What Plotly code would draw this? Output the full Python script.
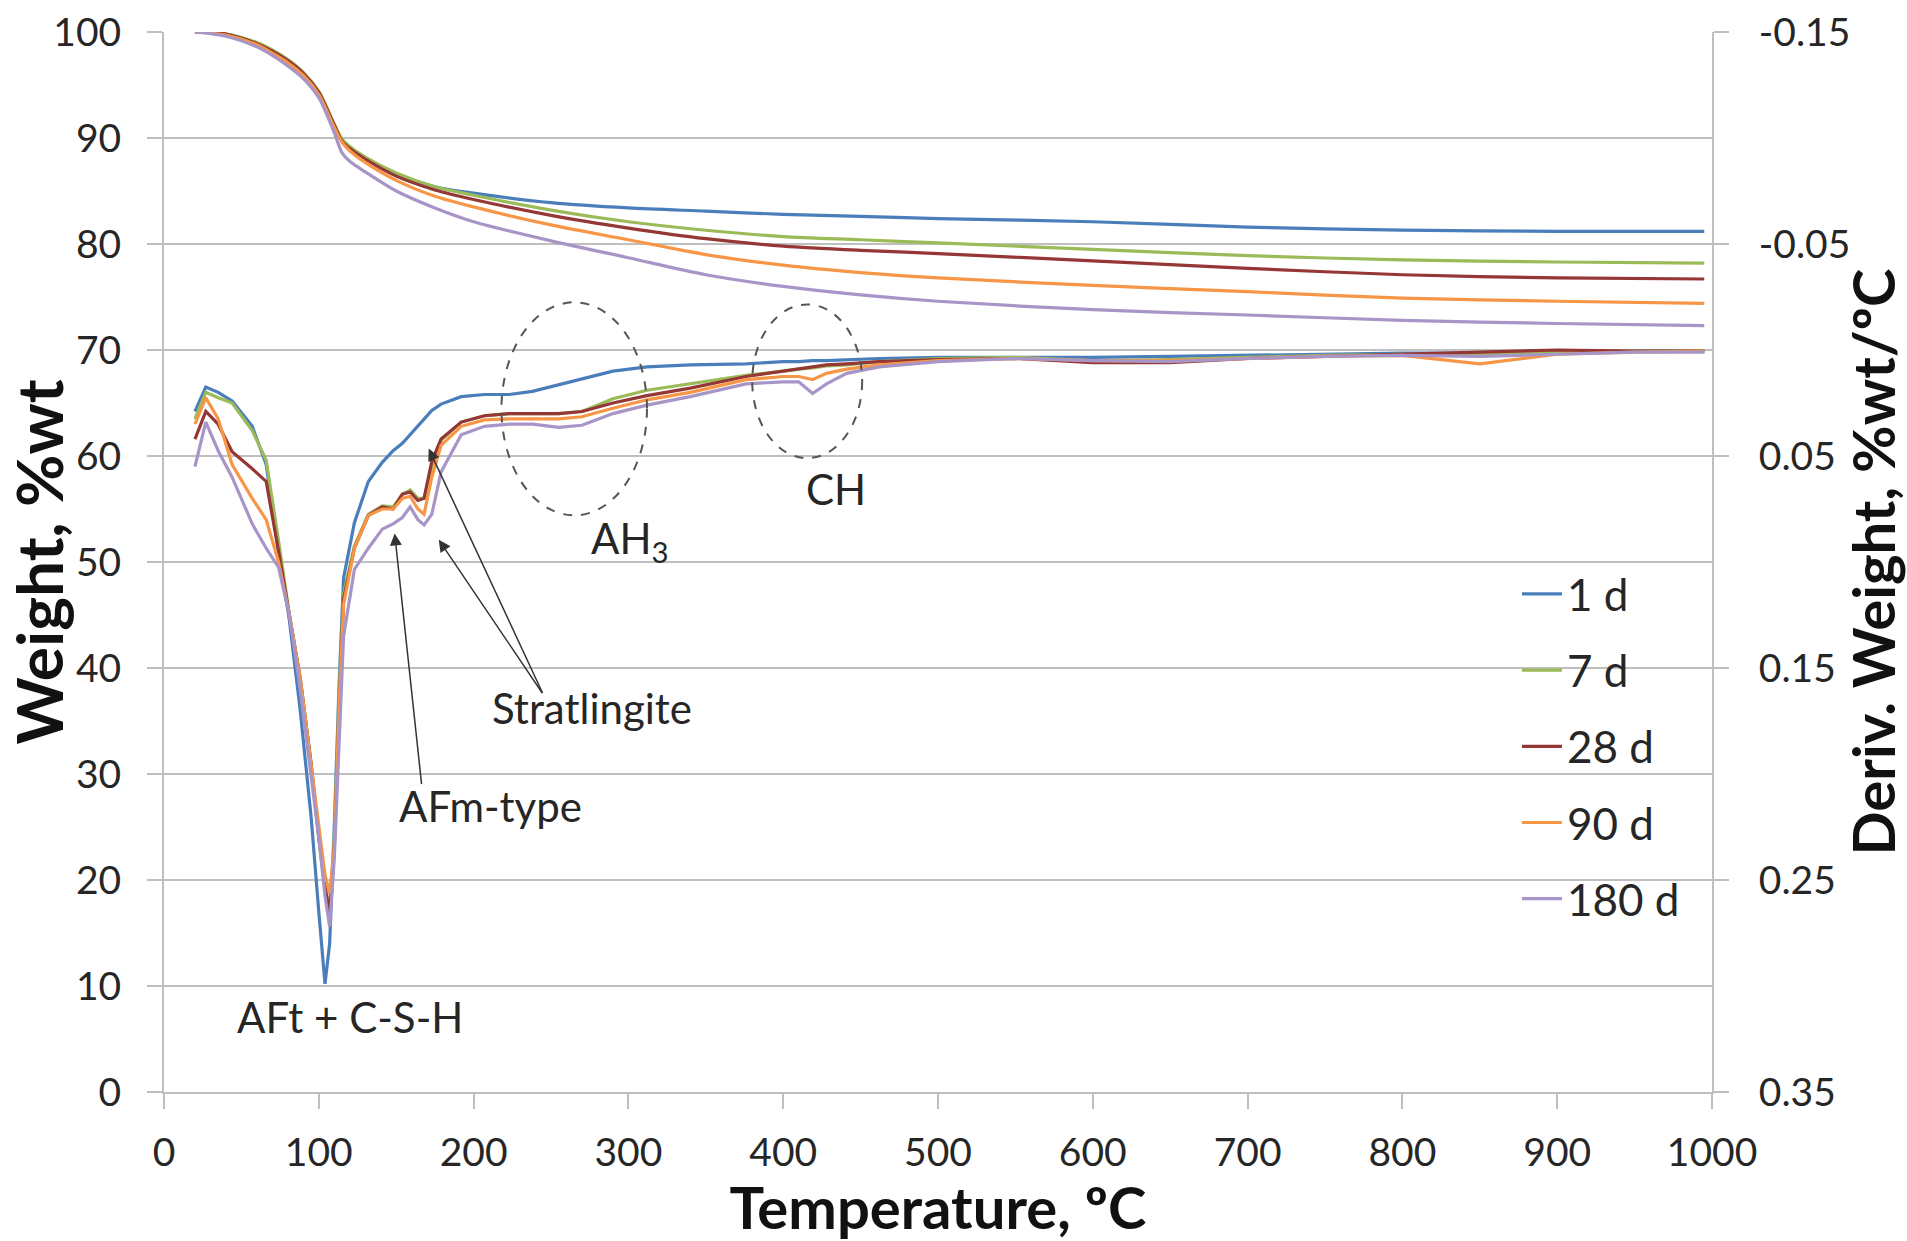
import plotly.graph_objects as go

# ---------------- data ----------------
series_names = ["1 d", "7 d", "28 d", "90 d", "180 d"]
series_colors = ["#4A7EBB", "#9BBB59", "#953735", "#F79646", "#A895C8"]

# TG curves (weight, %wt) – left axis
tg_temperature = [20, 40, 60, 70, 80, 90, 100, 110, 115, 120, 130, 150, 175, 200,
                  250, 300, 350, 400, 450, 500, 600, 700, 800, 900, 995]
tg_1d = [100, 99.8, 98.9, 98.1, 97.2, 96.0, 94.3, 91.2, 89.8, 89.1, 88.1, 86.6, 85.4, 84.8,
         83.9, 83.4, 83.1, 82.8, 82.6, 82.4, 82.1, 81.6, 81.3, 81.2, 81.2]
tg_7d = [100, 99.8, 99.0, 98.3, 97.4, 96.2, 94.4, 91.3, 89.9, 89.2, 88.2, 86.7, 85.4, 84.6,
         83.2, 82.1, 81.3, 80.7, 80.4, 80.1, 79.5, 78.9, 78.5, 78.3, 78.2]
tg_28d = [100, 99.8, 98.9, 98.2, 97.3, 96.1, 94.3, 91.2, 89.7, 89.0, 88.0, 86.4, 85.1, 84.2,
          82.7, 81.5, 80.5, 79.8, 79.4, 79.1, 78.4, 77.7, 77.1, 76.8, 76.7]
tg_90d = [100, 99.7, 98.8, 98.0, 97.1, 95.9, 94.1, 91.0, 89.6, 88.8, 87.7, 86.0, 84.5, 83.5,
          81.8, 80.4, 79.0, 78.0, 77.3, 76.8, 76.1, 75.5, 74.9, 74.6, 74.4]
tg_180d = [100, 99.6, 98.6, 97.8, 96.8, 95.6, 93.8, 90.5, 88.6, 87.8, 86.8, 85.0, 83.4, 82.1,
           80.3, 78.7, 77.1, 76.0, 75.2, 74.6, 73.8, 73.3, 72.8, 72.5, 72.3]

# DTG curves (deriv. weight, %wt/oC) – right (reversed) axis
dtg_temperature = [20, 27, 35, 44, 57, 66, 74, 81, 88, 95, 100, 104, 107, 110, 113,
                   116, 123, 132, 141, 148, 154, 159, 164, 168, 173, 179, 192, 207, 223, 238,
                   255, 270, 290, 312, 340, 376, 400, 410, 419, 428, 441, 462, 500, 550, 600,
                   650, 700, 750, 800, 850, 900, 950, 995]
dtg_1d = [0.029, 0.0175, 0.020, 0.024, 0.036, 0.054, 0.095, 0.1275, 0.170, 0.220,
          0.265, 0.299, 0.280, 0.225, 0.160, 0.1075, 0.0815, 0.062, 0.053, 0.0475,
          0.044, 0.040, 0.0355, 0.0325, 0.0285, 0.0255, 0.022, 0.021, 0.021, 0.0195,
          0.0165, 0.0135, 0.010, 0.008, 0.007, 0.0065, 0.0055, 0.0055, 0.005, 0.005,
          0.0045, 0.004, 0.0035, 0.0035, 0.0035, 0.003, 0.0025, 0.002, 0.0015, 0.0015,
          0.001, 0.0005, 0.0005]
dtg_7d = [0.0325, 0.020, 0.0225, 0.025, 0.038, 0.052, 0.090, 0.125, 0.155, 0.195,
          0.230, 0.255, 0.2625, 0.230, 0.165, 0.115, 0.0925, 0.0775, 0.0735, 0.074,
          0.068, 0.066, 0.070, 0.070, 0.055, 0.0425, 0.034, 0.031, 0.030, 0.030,
          0.030, 0.029, 0.023, 0.019, 0.016, 0.012, 0.010, 0.009, 0.0085, 0.0075,
          0.007, 0.0055, 0.004, 0.0035, 0.005, 0.0045, 0.0035, 0.0025, 0.002, 0.002,
          0.001, 0.0005, 0.0005]
dtg_28d = [0.042, 0.029, 0.035, 0.048, 0.056, 0.062, 0.095, 0.125, 0.155, 0.195,
           0.230, 0.2525, 0.2665, 0.235, 0.170, 0.1175, 0.0935, 0.078, 0.074, 0.075,
           0.068, 0.067, 0.071, 0.070, 0.0525, 0.042, 0.034, 0.031, 0.030, 0.030,
           0.030, 0.029, 0.025, 0.0215, 0.018, 0.0125, 0.010, 0.009, 0.008, 0.007,
           0.0065, 0.0055, 0.0045, 0.004, 0.006, 0.006, 0.004, 0.003, 0.002, 0.001,
           0.000, 0.0005, 0.0005]
dtg_90d = [0.035, 0.0225, 0.0325, 0.054, 0.070, 0.080, 0.100, 0.125, 0.155, 0.195,
           0.225, 0.2475, 0.2565, 0.235, 0.170, 0.120, 0.0935, 0.078, 0.075, 0.075,
           0.070, 0.069, 0.075, 0.0775, 0.060, 0.045, 0.036, 0.033, 0.0325, 0.0325,
           0.0325, 0.0315, 0.0275, 0.0235, 0.020, 0.014, 0.0125, 0.0125, 0.014, 0.011,
           0.009, 0.007, 0.005, 0.004, 0.005, 0.005, 0.004, 0.003, 0.0025, 0.0065,
           0.002, 0.001, 0.0005]
dtg_180d = [0.055, 0.034, 0.0475, 0.060, 0.082, 0.0935, 0.1025, 0.125, 0.160, 0.200,
            0.230, 0.2575, 0.272, 0.240, 0.185, 0.135, 0.1035, 0.0935, 0.0845, 0.082,
            0.079, 0.074, 0.080, 0.0825, 0.0775, 0.0575, 0.040, 0.036, 0.035, 0.035,
            0.0365, 0.0355, 0.030, 0.026, 0.022, 0.016, 0.015, 0.015, 0.0205, 0.016,
            0.011, 0.008, 0.0055, 0.004, 0.005, 0.0055, 0.004, 0.003, 0.0025, 0.003,
            0.002, 0.001, 0.001]

x_ticks = [0, 100, 200, 300, 400, 500, 600, 700, 800, 900, 1000]
y_ticks = [0, 10, 20, 30, 40, 50, 60, 70, 80, 90, 100]
y2_ticks = [-0.15, -0.05, 0.05, 0.15, 0.25, 0.35]
y2_tick_labels = ["-0.15", "-0.05", "0.05", "0.15", "0.25", "0.35"]

tg_series = [tg_1d, tg_7d, tg_28d, tg_90d, tg_180d]
dtg_series = [dtg_1d, dtg_7d, dtg_28d, dtg_90d, dtg_180d]

# ---------------- figure ----------------
FONT = "Lato, 'Open Sans', sans-serif"
TXT = "#262626"
GRID = "#BFBFBF"

fig = go.Figure()
for name, color, tg, dtg in zip(series_names, series_colors, tg_series, dtg_series):
    fig.add_trace(go.Scatter(x=tg_temperature, y=tg, mode="lines", name=name,
                             legendgroup=name,
                             line=dict(color=color, width=3.2, shape="spline", smoothing=0.8),
                             yaxis="y"))
    fig.add_trace(go.Scatter(x=dtg_temperature, y=dtg, mode="lines", name=name,
                             legendgroup=name, showlegend=False,
                             line=dict(color=color, width=3.2), yaxis="y2"))

# dashed ellipses
fig.add_shape(type="circle", xref="x", yref="y", x0=218, x1=312, y0=54.4, y1=74.5,
              line=dict(color="#555555", width=2, dash="dash"))
fig.add_shape(type="circle", xref="x", yref="y", x0=380, x1=451, y0=59.8, y1=74.3,
              line=dict(color="#555555", width=2, dash="dash"))

# labels
labels = [
    (120, 7.1, "AFt + C-S-H"),
    (211, 27.0, "AFm-type"),
    (276.5, 36.2, "Stratlingite"),
    (301, 52.0, "AH<sub>3</sub>"),
    (434, 56.9, "CH"),
]
for lx, ly, lt in labels:
    fig.add_annotation(x=lx, y=ly, xref="x", yref="y", text=lt, showarrow=False,
                       font=dict(family=FONT, size=42, color=TXT))

# arrows (head at x,y ; tail at ax,ay)
arrows = [
    (149, 52.7, 166.5, 28.9),
    (171, 60.7, 245, 37.5),
    (177.5, 52.1, 245, 37.5),
]
for hx, hy, tx, ty in arrows:
    fig.add_annotation(x=hx, y=hy, ax=tx, ay=ty, xref="x", yref="y", axref="x", ayref="y",
                       text="", showarrow=True, arrowhead=2, arrowsize=1.6,
                       arrowwidth=1.5, arrowcolor="#333333")

fig.update_layout(
    width=1907, height=1241,
    margin=dict(l=164, r=195, t=32, b=149, autoexpand=False),
    paper_bgcolor="white", plot_bgcolor="white",
    font=dict(family=FONT, size=39, color=TXT),
    xaxis=dict(range=[0, 1000], tickvals=x_ticks, showgrid=False, automargin=False,
               showline=True, linecolor=GRID, linewidth=2,
               ticks="outside", ticklen=15, tickwidth=2, tickcolor=GRID,
               ticklabelstandoff=10, zeroline=False,
               title=dict(text="<b>Temperature, ºC</b>", font=dict(size=58, color="#111111"),
                          standoff=14)),
    yaxis=dict(range=[0, 100], tickvals=y_ticks, showgrid=True, gridcolor=GRID, gridwidth=2,
               showline=True, linecolor=GRID, linewidth=2, zeroline=False, automargin=False,
               ticks="outside", ticklen=15, tickwidth=2, tickcolor=GRID,
               ticklabelstandoff=18,
               title=dict(text="<b>Weight, %wt</b>", font=dict(size=64, color="#111111"),
                          standoff=6)),
    yaxis2=dict(range=[0.35, -0.15], tickvals=y2_ticks, ticktext=y2_tick_labels,
                overlaying="y", side="right", showgrid=False, zeroline=False, automargin=False,
                showline=True, linecolor=GRID, linewidth=2,
                ticks="outside", ticklen=15, tickwidth=2, tickcolor=GRID,
                ticklabelstandoff=22,
                title=dict(text="<b>Deriv. Weight, %wt/ºC</b>",
                           font=dict(size=58, color="#111111"), standoff=6)),
    legend=dict(x=0.874, y=0.503, xanchor="left", yanchor="top",
                traceorder="grouped", tracegroupgap=16,
                bgcolor="rgba(255,255,255,0)", font=dict(size=44, color=TXT),
                itemwidth=40),
    showlegend=True,
)

fig.write_html("out.html", config={"displayModeBar": False},
               post_script="document.body.style.margin='0';document.body.style.overflow='hidden';")
